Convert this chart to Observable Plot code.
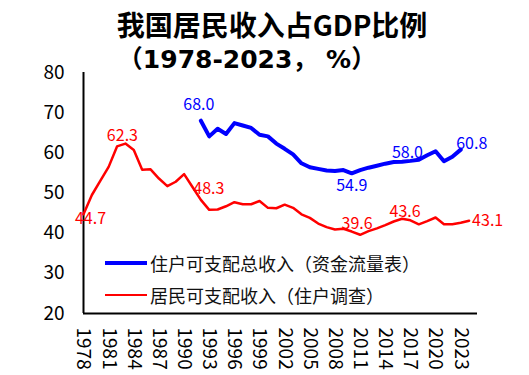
<!DOCTYPE html>
<html><head><meta charset="utf-8">
<script src="https://cdn.jsdelivr.net/npm/d3@7"></script>
<script src="https://cdn.jsdelivr.net/npm/@observablehq/plot@0.6"></script>
<style>
body{margin:0;background:#fff;font-family:"Noto Sans CJK SC",sans-serif;}
#wrap{position:relative;width:529px;height:375px;overflow:hidden;}
.t{position:absolute;white-space:nowrap;transform:translate(-50%,-50%);color:#000;line-height:1;}
.lg{position:absolute;white-space:nowrap;color:#111;font-size:18px;line-height:1;transform:translateY(-50%);}
.sw{position:absolute;height:0;}
</style></head><body><div id="wrap"></div>
<script>
// categories
const redYears = d3.range(1978, 2025);   // 1978..2024
const blueYears = d3.range(1992, 2024);  // 1992..2023
const tickYears = [1978,1981,1984,1987,1990,1993,1996,1999,2002,2005,2008,2011,2014,2017,2020,2023];
const yTicks = [20,30,40,50,60,70,80];

// 居民可支配收入（住户调查）
const redValues = [44.7,49.5,53.0,56.5,61.6,62.3,60.7,55.8,55.9,53.6,
  51.7,52.8,54.7,51.5,48.3,45.8,45.9,46.7,47.7,47.2,
  47.2,48.0,46.3,46.2,47.1,46.3,44.7,43.8,42.4,41.5,
  40.9,41.1,40.4,39.6,40.5,41.2,42.0,42.9,43.6,43.2,
  42.2,43.0,43.9,42.2,42.2,42.6,43.1];
// 住户可支配总收入（资金流量表）
const blueValues = [68.0,64.1,66.0,64.7,67.4,66.8,66.2,64.5,64.1,62.3,
  61.0,59.6,57.4,56.4,56.0,55.6,55.5,55.7,54.9,55.7,
  56.3,56.8,57.3,57.7,57.8,58.0,58.3,59.4,60.4,57.9,
  59.0,60.8];

const seriesNames = ["住户可支配总收入（资金流量表）", "居民可支配收入（住户调查）"];
const titleText = "我国居民收入占GDP比例";
const subtitleText = "（1978-2023， %）";

const red = redYears.map((y,i)=>({year:y, value:redValues[i]}));
const blue = blueYears.map((y,i)=>({year:y, value:blueValues[i]}));

const BLUE = "#0000ff", RED = "#ff0000";
const FONT = '"Noto Sans CJK SC", sans-serif';

function lbl(data, year, color, opts) {
  const d = data.filter(p => p.year === year);
  return Plot.text(d, {x:"year", y:"value", text: p => p.value.toFixed(1), fill: color,
    fontSize: 16, fontFamily: FONT, ...opts});
}

const chart = Plot.plot({
  width: 529, height: 375,
  marginLeft: 83, marginRight: 52, marginTop: 72, marginBottom: 62,
  style: {fontFamily: FONT, fontSize: "19px", color: "#000", background: "#fff", overflow: "visible"},
  x: {domain: [1978, 2025], ticks: tickYears, tickFormat: d => String(d), tickRotate: 90,
      tickSize: 0, tickPadding: 14, label: null},
  y: {domain: [20, 80], ticks: yTicks, tickSize: 0, tickPadding: 19, label: null},
  marks: [
    Plot.ruleX([1978], {stroke: "#000", strokeWidth: 2}),
    Plot.ruleY([20], {stroke: "#000", strokeWidth: 2}),
    Plot.line(red, {x: "year", y: "value", stroke: RED, strokeWidth: 2.5}),
    Plot.line(blue, {x: "year", y: "value", stroke: BLUE, strokeWidth: 4}),
    lbl(blue, 1992, BLUE, {dx: -2, dy: -16}),
    lbl(blue, 2010, BLUE, {dy: 13}),
    lbl(blue, 2017, BLUE, {dx: -3, dy: -8}),
    lbl(blue, 2023, BLUE, {dx: 11, dy: -6}),
    lbl(red, 1978, RED, {dx: 7, dy: 5}),
    lbl(red, 1983, RED, {dx: -3, dy: -8}),
    lbl(red, 1992, RED, {dx: 8, dy: -11}),
    lbl(red, 2011, RED, {dx: -3, dy: -11}),
    lbl(red, 2016, RED, {dx: 3, dy: -7}),
    lbl(red, 2024, RED, {dx: 3, textAnchor: "start"})
  ]
});

const wrap = document.getElementById("wrap");
wrap.appendChild(chart);

function add(cls, text, css) {
  const el = document.createElement("div");
  el.className = cls; el.textContent = text; Object.assign(el.style, css);
  wrap.appendChild(el); return el;
}
add("t", titleText, {left: "272px", top: "24px", fontSize: "28px", fontWeight: "700"});
add("t", subtitleText, {left: "247px", top: "59px", fontSize: "25px", fontWeight: "700",
  fontFamily: '"DejaVu Sans", "Noto Sans CJK SC", sans-serif'});
// legend
const sw1 = document.createElement("div"); sw1.className = "sw";
Object.assign(sw1.style, {left: "105px", top: "261px", width: "42px", borderTop: "4px solid " + BLUE});
wrap.appendChild(sw1);
const sw2 = document.createElement("div"); sw2.className = "sw";
Object.assign(sw2.style, {left: "105px", top: "294px", width: "42px", borderTop: "2.5px solid " + RED});
wrap.appendChild(sw2);
add("lg", seriesNames[0], {left: "150px", top: "263px"});
add("lg", seriesNames[1], {left: "150px", top: "295px"});
</script></body></html>
